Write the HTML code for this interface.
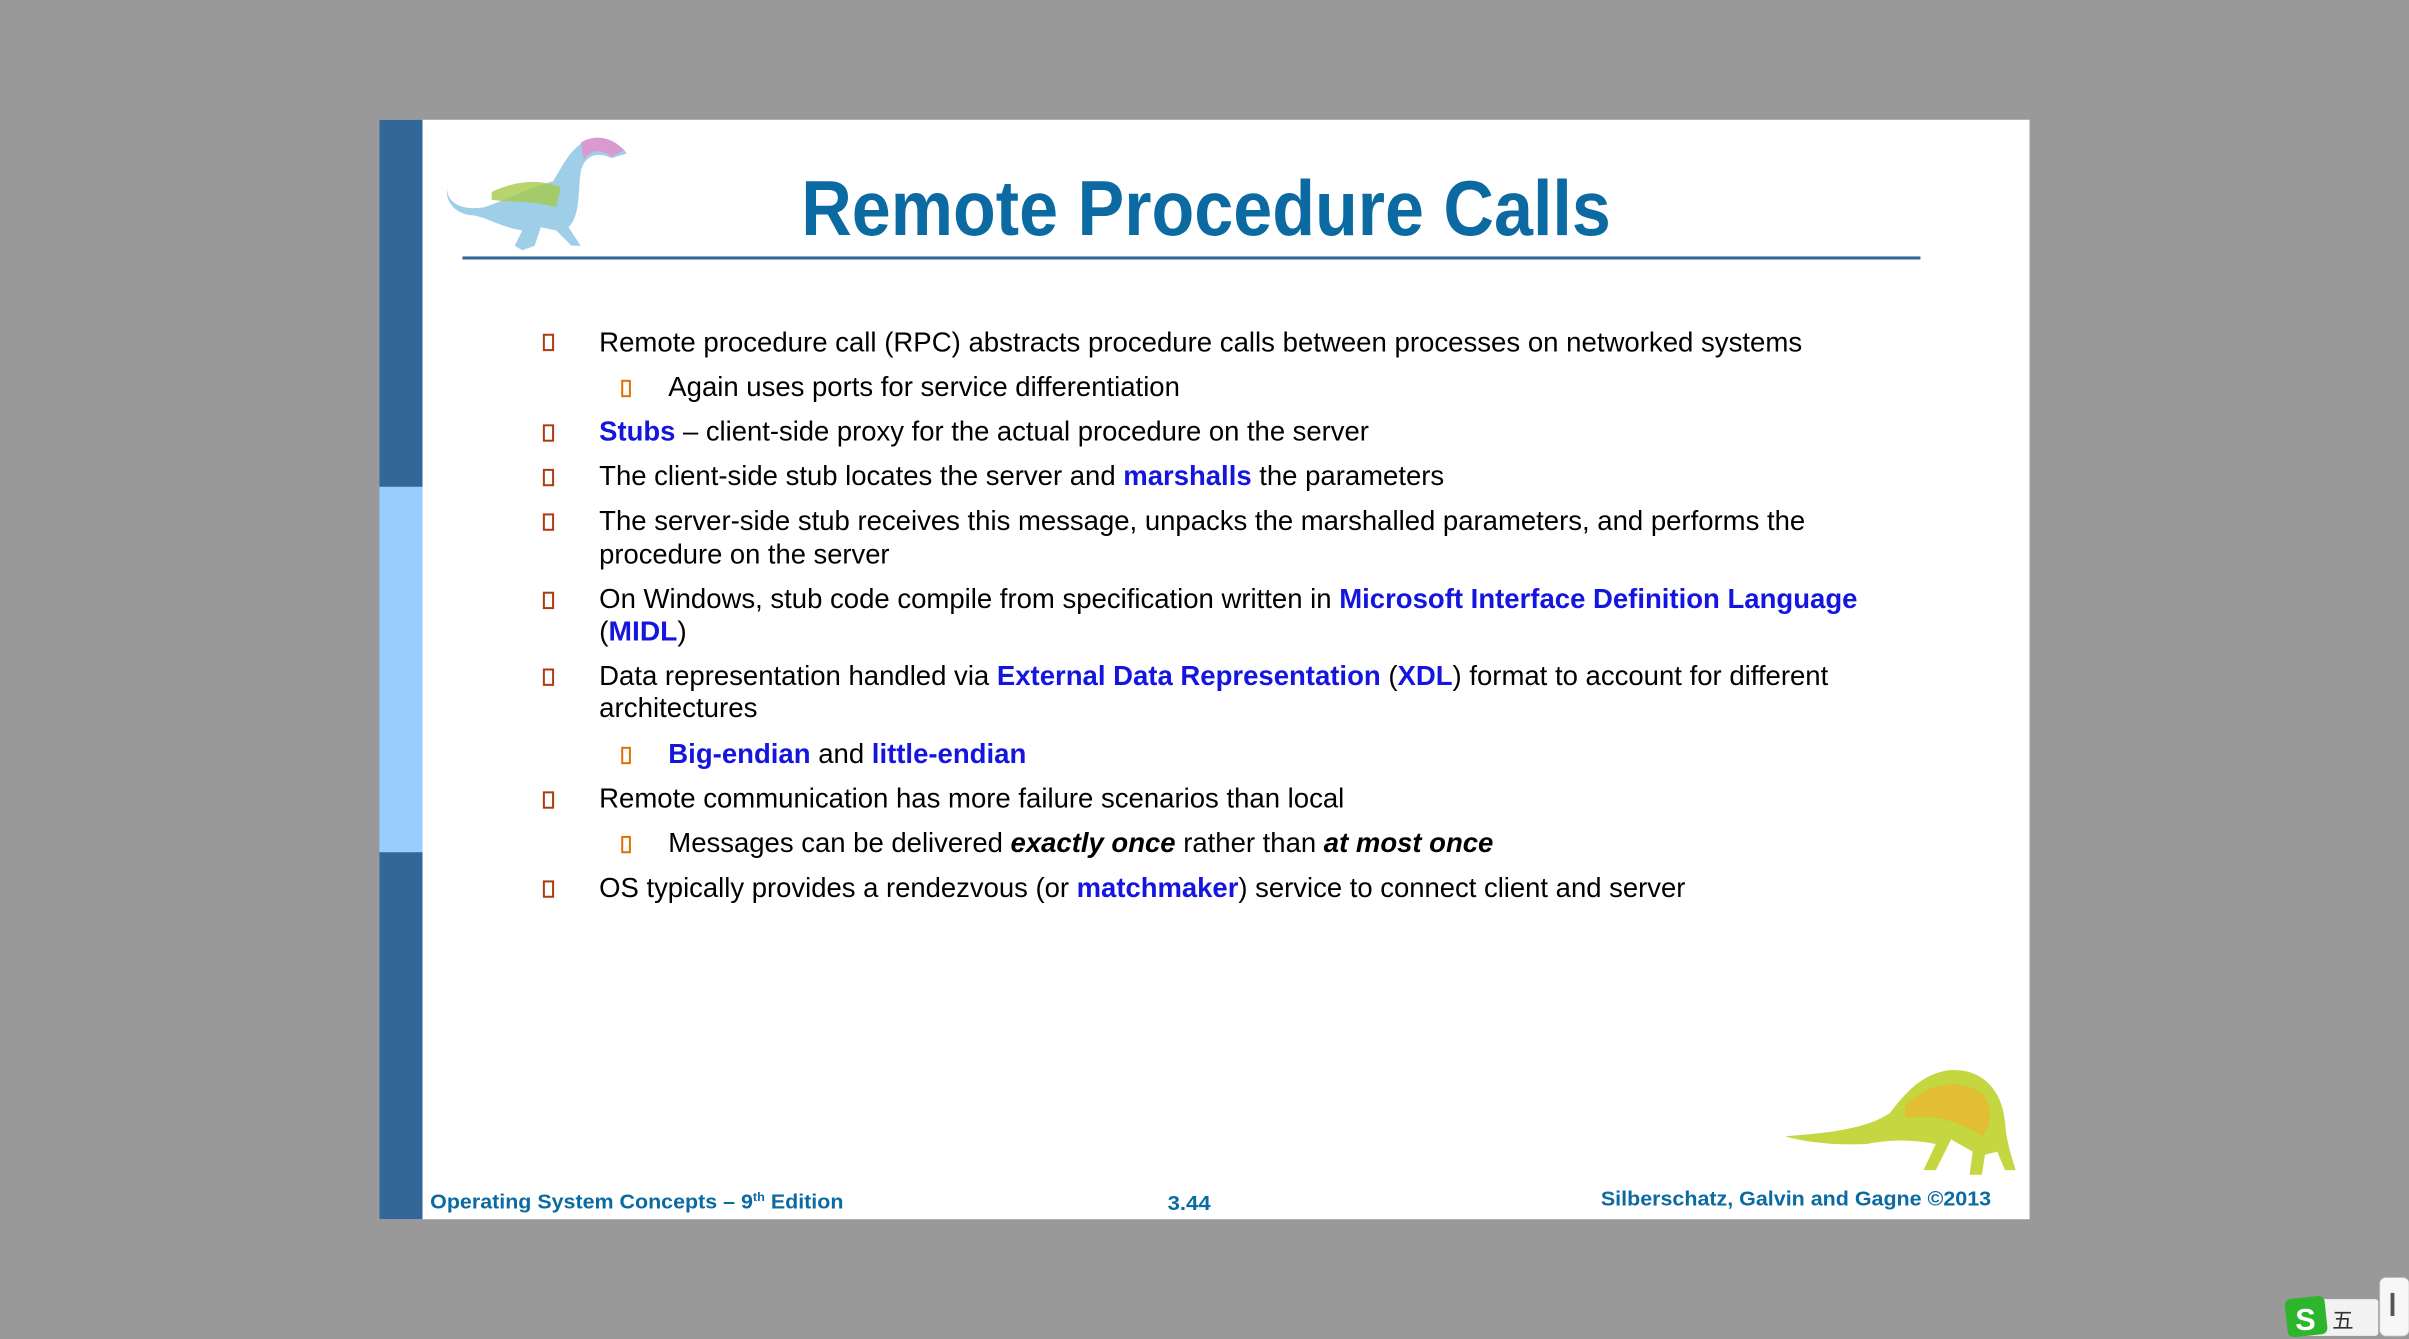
<!DOCTYPE html>
<html><head><meta charset="utf-8"><style>
html,body{margin:0;padding:0;background:#999;width:2409px;height:1339px;overflow:hidden}
svg{display:block}
text{font-family:"Liberation Sans",Arial,sans-serif}
</style></head><body>
<svg width="2409" height="1339" viewBox="0 0 1568 872" preserveAspectRatio="none">
<rect x="0" y="0" width="1568" height="872" fill="#999999"/>
<g>
<rect x="247" y="78" width="1074" height="716" fill="#ffffff"/>
<rect x="247" y="78" width="28" height="716" fill="#336699"/>
<rect x="247" y="317" width="28" height="238" fill="#99ccff"/>
<g>
<path d="M292,118 C288,128 296,138 315,135 C330,130 345,122 360,118 C368,105 372,95 385,90 C395,88 405,95 408,100 L398,103 C388,98 380,102 378,112 C376,125 378,140 370,148 L378,160 L372,160 L362,150 L352,148 L348,160 L340,163 L335,160 L340,150 C325,148 315,140 305,140 C295,138 288,130 292,118 Z" fill="#9fcfe8"/>
<path d="M320,125 C335,118 350,116 365,122 L362,135 C345,130 330,132 320,130 Z" fill="#a5c94a" opacity="0.8"/>
<path d="M378,93 C385,88 398,88 406,98 L398,102 C390,96 384,98 380,104 Z" fill="#d99ad0"/>
</g>
<text x="785" y="153" text-anchor="middle" font-size="51" font-weight="bold" fill="#0b6aa2" textLength="527" lengthAdjust="spacingAndGlyphs">Remote Procedure Calls</text>
<rect x="301" y="167" width="949" height="2" fill="#336699"/>
<g font-size="18" fill="#000">
<g fill="none" stroke-width="1.3">
<rect x="354" y="218" width="6" height="10" stroke="#b03a10"/>
<rect x="405" y="248" width="5" height="10" stroke="#e07000"/>
<rect x="354" y="277" width="6" height="10" stroke="#b03a10"/>
<rect x="354" y="306" width="6" height="10" stroke="#b03a10"/>
<rect x="354" y="335" width="6" height="10" stroke="#b03a10"/>
<rect x="354" y="386" width="6" height="10" stroke="#b03a10"/>
<rect x="354" y="436" width="6" height="10" stroke="#b03a10"/>
<rect x="405" y="487" width="5" height="10" stroke="#e07000"/>
<rect x="354" y="516" width="6" height="10" stroke="#b03a10"/>
<rect x="405" y="545" width="5" height="10" stroke="#e07000"/>
<rect x="354" y="574" width="6" height="10" stroke="#b03a10"/>
</g>
<text x="390" y="229" textLength="783" lengthAdjust="spacingAndGlyphs">Remote procedure call (RPC) abstracts procedure calls between processes on networked systems</text>
<text x="435" y="258" textLength="333" lengthAdjust="spacingAndGlyphs">Again uses ports for service differentiation</text>
<text x="390" y="287" textLength="501" lengthAdjust="spacingAndGlyphs"><tspan fill="#1515e0" font-weight="bold">Stubs</tspan> – client-side proxy for the actual procedure on the server</text>
<text x="390" y="316" textLength="550" lengthAdjust="spacingAndGlyphs">The client-side stub locates the server and <tspan fill="#1515e0" font-weight="bold">marshalls</tspan> the parameters</text>
<text x="390" y="345" textLength="785" lengthAdjust="spacingAndGlyphs">The server-side stub receives this message, unpacks the marshalled parameters, and performs the</text>
<text x="390" y="367" textLength="189" lengthAdjust="spacingAndGlyphs">procedure on the server</text>
<text x="390" y="396" textLength="819" lengthAdjust="spacingAndGlyphs">On Windows, stub code compile from specification written in <tspan fill="#1515e0" font-weight="bold">Microsoft Interface Definition Language</tspan></text>
<text x="390" y="417" textLength="57" lengthAdjust="spacingAndGlyphs">(<tspan fill="#1515e0" font-weight="bold">MIDL</tspan>)</text>
<text x="390" y="446" textLength="800" lengthAdjust="spacingAndGlyphs">Data representation handled via <tspan fill="#1515e0" font-weight="bold">External Data Representation</tspan> (<tspan fill="#1515e0" font-weight="bold">XDL</tspan>) format to account for different</text>
<text x="390" y="467" textLength="103" lengthAdjust="spacingAndGlyphs">architectures</text>
<text x="435" y="497" textLength="233" lengthAdjust="spacingAndGlyphs"><tspan fill="#1515e0" font-weight="bold">Big-endian</tspan> and <tspan fill="#1515e0" font-weight="bold">little-endian</tspan></text>
<text x="390" y="526" textLength="485" lengthAdjust="spacingAndGlyphs">Remote communication has more failure scenarios than local</text>
<text x="435" y="555" textLength="537" lengthAdjust="spacingAndGlyphs">Messages can be delivered <tspan font-weight="bold" font-style="italic">exactly once</tspan> rather than <tspan font-weight="bold" font-style="italic">at most once</tspan></text>
<text x="390" y="584" textLength="707" lengthAdjust="spacingAndGlyphs">OS typically provides a rendezvous (or <tspan fill="#1515e0" font-weight="bold">matchmaker</tspan>) service to connect client and server</text>
</g>
<g>
<path d="M1162,740 C1190,738 1215,735 1230,725 C1240,712 1250,700 1268,697 C1290,695 1303,710 1305,730 C1306,745 1310,755 1312,762 L1305,762 L1300,750 L1292,752 L1290,765 L1282,765 L1284,750 L1270,742 L1260,762 L1252,762 L1260,745 C1245,742 1230,742 1215,745 C1195,746 1175,744 1162,740 Z" fill="#c4d640"/>
<path d="M1240,720 C1255,705 1275,702 1290,712 C1298,722 1296,735 1290,740 C1275,730 1258,725 1240,728 Z" fill="#e8b830" opacity="0.8"/>
</g>
<g font-size="13.5" font-weight="bold" fill="#0b6aa2">
<text x="280" y="787" textLength="269" lengthAdjust="spacingAndGlyphs">Operating System Concepts – 9<tspan font-size="8" dy="-5">th</tspan><tspan dy="5"> Edition</tspan></text>
<text x="760" y="788" textLength="28" lengthAdjust="spacingAndGlyphs">3.44</text>
<text x="1042" y="785" textLength="254" lengthAdjust="spacingAndGlyphs">Silberschatz, Galvin and Gagne ©2013</text>
</g>
</g>
<g>
<rect x="1500" y="846" width="48" height="24" rx="2" fill="#f2f2f2"/>
<rect x="1488" y="845" width="26" height="25" rx="4" fill="#2db52d" transform="rotate(-6 1500 857)"/>
<text x="1494" y="866" font-size="20" font-weight="bold" fill="#fff">S</text>
<text x="1518" y="865" font-size="14" fill="#333" font-family="Noto Sans CJK SC, sans-serif">五</text>
<rect x="1549" y="832" width="19" height="38" rx="4" fill="#f7f7f7" stroke="#ccc" stroke-width="0.5"/>
<rect x="1556" y="842" width="2.5" height="15" fill="#555"/>
</g>
</svg>
</body></html>
